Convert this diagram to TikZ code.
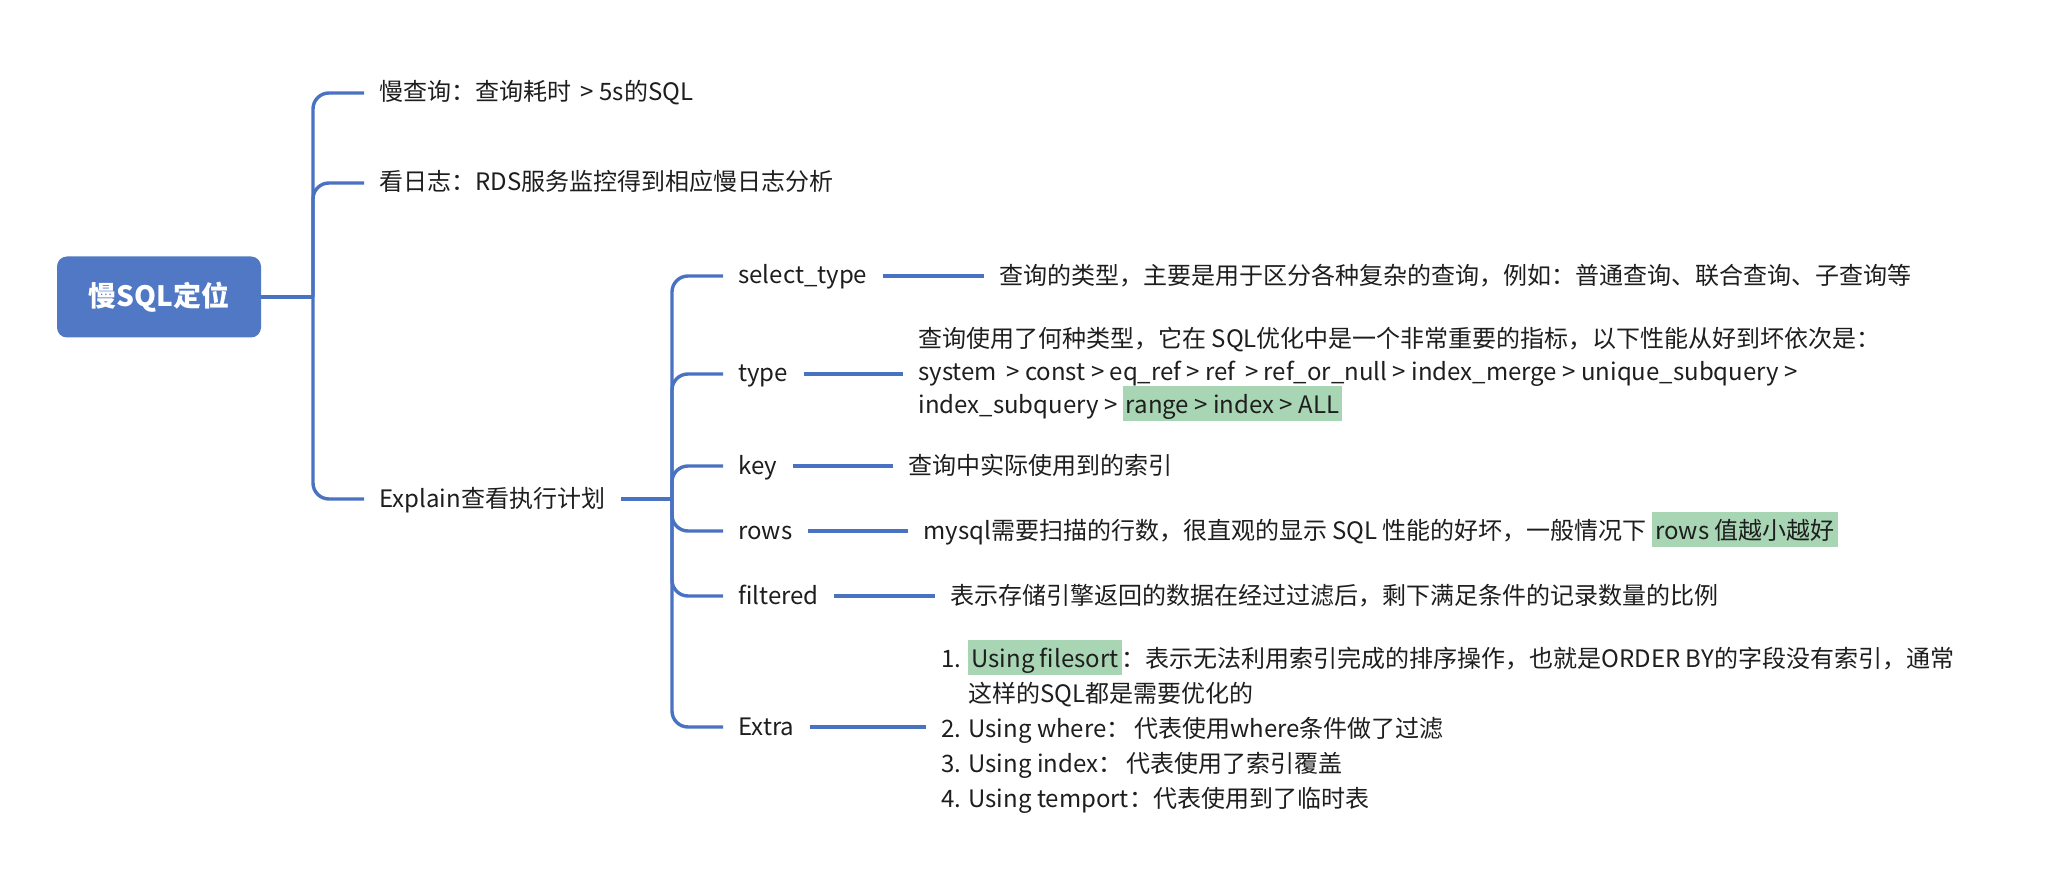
\documentclass[tikz,border=0pt]{standalone}
\usepackage{fontspec}
\setmainfont{Noto Sans CJK SC}
\definecolor{linec}{HTML}{4A72C2}
\definecolor{boxc}{HTML}{5078C4}
\definecolor{hlgreen}{HTML}{A8D5B4}
\definecolor{txt}{HTML}{1E1E1E}
\newcommand\hlbox[1]{\begingroup\setlength{\fboxsep}{0pt}\smash{\colorbox{hlgreen}{\rule[-4pt]{0pt}{17.5pt}\hspace{1.5pt}#1\hspace{1.5pt}}}\endgroup}
\begin{document}
\begin{tikzpicture}[x=0.5pt,y=-0.5pt,
  conn/.style={draw=linec,line width=1.7pt,rounded corners=8pt},
  lbl/.style={anchor=west,inner xsep=7.5pt,inner ysep=1pt,text=txt,font=\fontsize{12pt}{16.5pt}\selectfont,text height=10.5pt,text depth=2.5pt},
  multi/.style={anchor=west,inner xsep=7.5pt,inner ysep=1pt,text=txt,align=left},
  rootbox/.style={fill=boxc,rounded corners=5pt,minimum width=102pt,minimum height=40.5pt,text=white,font=\fontsize{14pt}{16pt}\selectfont\bfseries}
]
\fill[white] (0,0) rectangle (2048,876);
\useasboundingbox (0,0) rectangle (2048,876);

% root
\node[rootbox] (root) at (159,297) {慢SQL定位};
\coordinate (j1) at (313,297);

% level 1
\node[lbl] (c1) at (364,93) {慢查询：查询耗时 \,> 5s的SQL};
\node[lbl] (c2) at (364,183) {看日志：RDS服务监控得到相应慢日志分析};
\node[lbl] (c3) at (364,499) {Explain查看执行计划};
\coordinate (j2) at (672,499);

% level 2
\node[lbl] (s1) at (723,276) {select\_type};
\node[lbl] (s2) at (723,374) {type};
\node[lbl] (s3) at (723,466) {key};
\node[lbl] (s4) at (723,531) {rows};
\node[lbl] (s5) at (723,596) {filtered};
\node[lbl] (s6) at (723,727) {Extra};

% descriptions
\node[lbl] (d1) at (984,277) {查询的类型，主要是用于区分各种复杂的查询，例如：普通查询、联合查询、子查询等};
\node[multi,font=\fontsize{12pt}{16.5pt}\selectfont] (d2) at (903,373) {查询使用了何种类型，它在 SQL优化中是一个非常重要的指标，以下性能从好到坏依次是：\\system \,> const > eq\_ref > ref \,> ref\_or\_null > index\_merge > unique\_subquery >\\index\_subquery > \hlbox{range > index > ALL}};
\node[lbl] (d3) at (893,466) {查询中实际使用到的索引};
\node[lbl] (d4) at (908,531) {mysql需要扫描的行数，很直观的显示 SQL 性能的好坏，一般情况下 \hlbox{rows 值越小越好}};
\node[lbl] (d5) at (935,596) {表示存储引擎返回的数据在经过过滤后，剩下满足条件的记录数量的比例};
\node[multi,font=\fontsize{12pt}{17.5pt}\selectfont] (d6) at (926,730) {\makebox[13.5pt][l]{1.}\hlbox{Using filesort}：表示无法利用索引完成的排序操作，也就是ORDER BY的字段没有索引，通常\\\hspace*{13.5pt}这样的SQL都是需要优化的\\\makebox[13.5pt][l]{2.}Using where：\,代表使用where条件做了过滤\\\makebox[13.5pt][l]{3.}Using index：\,代表使用了索引覆盖\\\makebox[13.5pt][l]{4.}Using temport：代表使用到了临时表};

% connectors level 0-1
\draw[conn] (root.east) -- (j1);
\draw[conn] (j1) |- (c1.west);
\draw[conn] (j1) |- (c2.west);
\draw[conn] (j1) |- (c3.west);

% connectors level 1-2
\draw[conn] (c3.east) -- (j2);
\foreach \s in {s1,s2,s3,s4,s5,s6} {
  \draw[conn] (j2) |- (\s.west);
}

% connectors level 2-desc
\draw[conn] (s1.east) -- (s1.east -| d1.west);
\draw[conn] (s2.east) -- (s2.east -| d2.west);
\draw[conn] (s3.east) -- (s3.east -| d3.west);
\draw[conn] (s4.east) -- (s4.east -| d4.west);
\draw[conn] (s5.east) -- (s5.east -| d5.west);
\draw[conn] (s6.east) -- (s6.east -| d6.west);
\end{tikzpicture}
\end{document}
